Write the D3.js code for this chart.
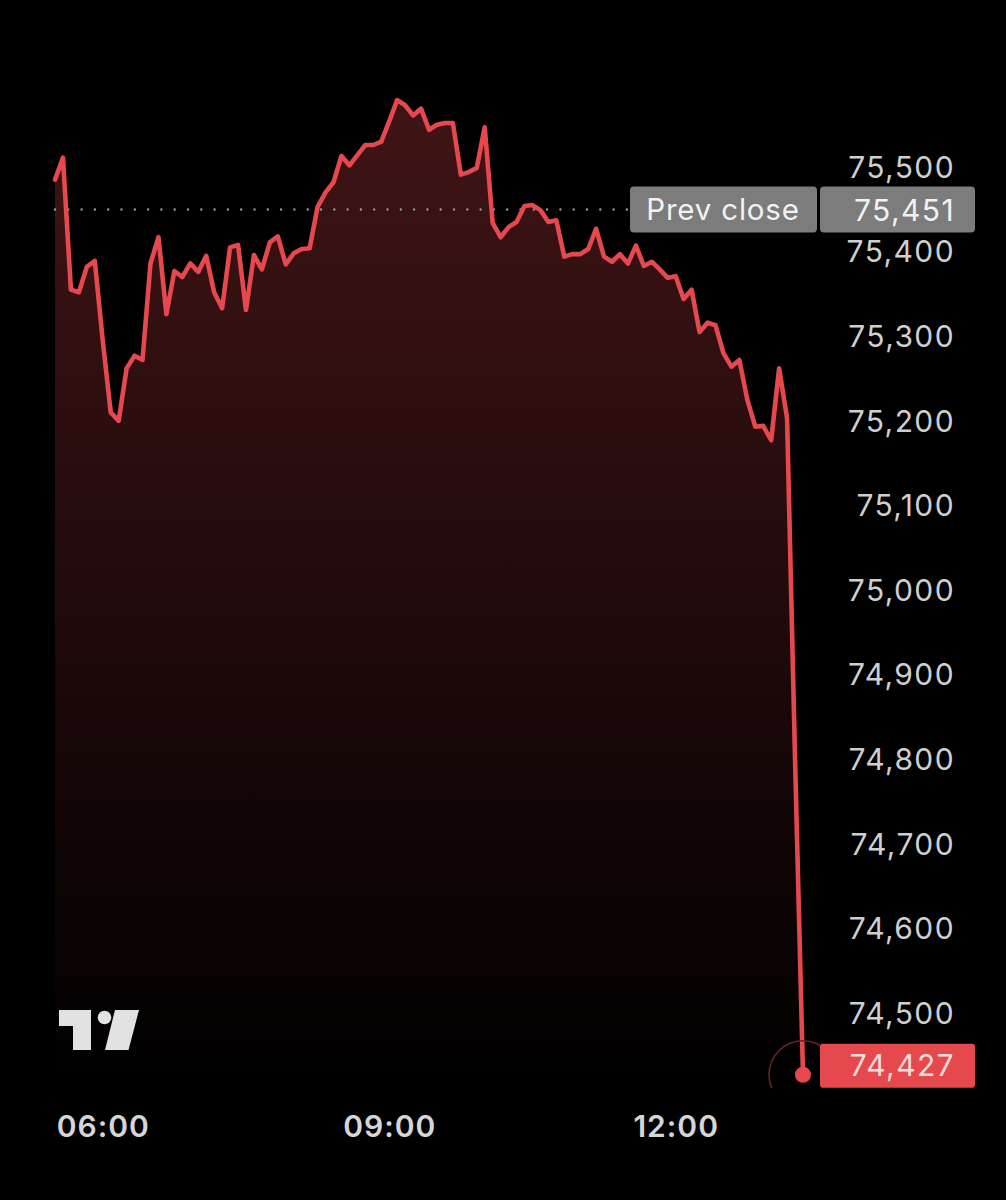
<!DOCTYPE html>
<html>
<head>
<meta charset="utf-8">
<script src="https://cdn.jsdelivr.net/npm/d3@7"></script>
<style>
  html, body { margin: 0; padding: 0; background: #000; }
  svg { display: block; }
</style>
</head>
<body>
<svg id="chart" width="1006" height="1200"></svg>
<script>
// session start and bar step (minutes)
const startTime = "05:30";
const stepMinutes = 5;

// price per 5-minute bar
const prices = [
  75485, 75511, 75355, 75352, 75382, 75389, 75295, 75210, 75200, 75262,
  75277, 75272, 75386, 75417, 75326, 75377, 75370, 75386, 75376, 75395,
  75352, 75333, 75405, 75408, 75331, 75396, 75379, 75411, 75418, 75385,
  75398, 75403, 75404, 75453, 75470, 75482, 75513, 75502, 75514, 75526,
  75526, 75530, 75554, 75579, 75573, 75561, 75569, 75544, 75550, 75552,
  75552, 75491, 75494, 75499, 75547, 75434, 75417, 75429, 75435, 75454,
  75455, 75449, 75435, 75437, 75394, 75397, 75397, 75403, 75427, 75394,
  75388, 75397, 75386, 75407, 75383, 75388, 75379, 75369, 75371, 75344,
  75355, 75305, 75316, 75313, 75280, 75264, 75272, 75225, 75193, 75194,
  75177, 75262, 75203, 74800, 74427
];

const yTicks = [74500, 74600, 74700, 74800, 74900, 75000, 75100, 75200, 75300, 75400, 75500];
const xTickLabels = ["06:00", "09:00", "12:00"];
const prevClose = 75451;
const lastPrice = 74427;

const lineColor = "#e5484d";
const fmt = d3.format(",");
const parseHM = d3.timeParse("%H:%M");

const t0 = parseHM(startTime);
const data = prices.map((v, i) => ({ t: d3.timeMinute.offset(t0, i * stepMinutes), v: v }));

const svg = d3.select("#chart");

const x = d3.scaleTime()
  .domain([data[0].t, data[data.length - 1].t])
  .range([55, 803]);

const y = d3.scaleLinear()
  .domain([74500, 75500])
  .range([1013, 167]);

const plotBottom = 1088;

// gradient under the line
const defs = svg.append("defs");
const grad = defs.append("linearGradient")
  .attr("id", "fillGrad")
  .attr("gradientUnits", "userSpaceOnUse")
  .attr("x1", 0).attr("x2", 0)
  .attr("y1", 100).attr("y2", plotBottom);
grad.append("stop").attr("offset", "0%").attr("stop-color", lineColor).attr("stop-opacity", 0.28);
grad.append("stop").attr("offset", "45%").attr("stop-color", lineColor).attr("stop-opacity", 0.16);
grad.append("stop").attr("offset", "100%").attr("stop-color", lineColor).attr("stop-opacity", 0.0);

defs.append("clipPath").attr("id", "plotClip")
  .append("rect").attr("x", 0).attr("y", 0).attr("width", 1006).attr("height", plotBottom);

const area = d3.area()
  .x(d => x(d.t))
  .y0(plotBottom)
  .y1(d => y(d.v));

svg.append("path")
  .datum(data)
  .attr("d", area)
  .attr("fill", "url(#fillGrad)");

// prev close dotted line
svg.append("line")
  .attr("x1", 55).attr("x2", 975)
  .attr("y1", y(prevClose) + 1).attr("y2", y(prevClose) + 1)
  .attr("stroke", "#9a9a9a")
  .attr("stroke-width", 2.4)
  .attr("stroke-linecap", "round")
  .attr("stroke-dasharray", "0 13.3");

const line = d3.line()
  .x(d => x(d.t))
  .y(d => y(d.v));

svg.append("path")
  .datum(data)
  .attr("d", line)
  .attr("fill", "none")
  .attr("stroke", lineColor)
  .attr("stroke-width", 4.6)
  .attr("stroke-linejoin", "round")
  .attr("stroke-linecap", "round");

const labelFont = "Inter, 'Noto Sans', sans-serif";

// y axis labels on the right
const yAxis = d3.axisRight(y).tickValues(yTicks).tickFormat(fmt).tickSize(0);
const gy = svg.append("g")
  .attr("transform", "translate(955,0)")
  .call(yAxis);
gy.select(".domain").remove();
gy.selectAll("text")
  .attr("x", 0)
  .attr("dy", "0.34em")
  .attr("text-anchor", "end")
  .attr("fill", "#cfcfcf")
  .style("font-family", labelFont)
  .style("font-size", "30px")
  .style("letter-spacing", "1.4px");

// x axis labels
const xAxis = d3.axisBottom(x)
  .tickValues(xTickLabels.map(parseHM))
  .tickFormat(d3.timeFormat("%H:%M"))
  .tickSize(0);
const gx = svg.append("g")
  .attr("transform", "translate(0,1115)")
  .call(xAxis);
gx.select(".domain").remove();
gx.selectAll("text")
  .attr("y", 0)
  .attr("dy", "0.72em")
  .attr("fill", "#d6d6d6")
  .style("font-family", labelFont)
  .style("font-weight", 600)
  .style("font-size", "30px")
  .style("letter-spacing", "1px");

// prev close label
const pcY = y(prevClose) + 1;
const pc = svg.append("g");
pc.append("rect")
  .attr("x", 630).attr("y", pcY - 23)
  .attr("width", 187).attr("height", 46)
  .attr("rx", 4)
  .attr("fill", "#7c7c7c");
pc.append("rect")
  .attr("x", 820).attr("y", pcY - 23)
  .attr("width", 155).attr("height", 46)
  .attr("rx", 4)
  .attr("fill", "#7c7c7c");
pc.append("text")
  .attr("x", 723).attr("y", pcY + 1)
  .attr("dy", "0.34em")
  .attr("text-anchor", "middle")
  .attr("fill", "#f2f2f2")
  .style("font-family", labelFont)
  .style("font-size", "29.5px")
  .style("letter-spacing", "0.8px")
  .text("Prev close");
pc.append("text")
  .attr("x", 955).attr("y", pcY + 1)
  .attr("dy", "0.34em")
  .attr("text-anchor", "end")
  .attr("fill", "#f2f2f2")
  .style("font-family", labelFont)
  .style("font-size", "30px")
  .style("letter-spacing", "1.4px")
  .text(fmt(prevClose));

// last price marker
const last = data[data.length - 1];
const lx = x(last.t), ly = y(last.v);
svg.append("circle")
  .attr("clip-path", "url(#plotClip)")
  .attr("cx", lx).attr("cy", ly)
  .attr("r", 34)
  .attr("fill", "none")
  .attr("stroke", "#6a2327")
  .attr("stroke-width", 1.6);
svg.append("circle")
  .attr("cx", lx).attr("cy", ly)
  .attr("r", 8)
  .attr("fill", lineColor);
svg.append("rect")
  .attr("x", 820).attr("y", ly - 31)
  .attr("width", 155).attr("height", 44)
  .attr("rx", 3)
  .attr("fill", lineColor);
svg.append("text")
  .attr("x", 955).attr("y", ly - 9)
  .attr("dy", "0.34em")
  .attr("text-anchor", "end")
  .attr("fill", "#f7dcdc")
  .style("font-family", labelFont)
  .style("font-size", "30px")
  .style("letter-spacing", "1.4px")
  .text(fmt(lastPrice));

// TradingView logo
const logo = svg.append("g").attr("fill", "#e2e2e2");
logo.append("path").attr("d", "M59,1010 H91 V1050 H73 V1026 H59 Z");
logo.append("circle").attr("cx", 104.5).attr("cy", 1017.5).attr("r", 6.8);
logo.append("path").attr("d", "M115,1010 H139 L128.5,1050 H105 Z");
</script>
</body>
</html>
